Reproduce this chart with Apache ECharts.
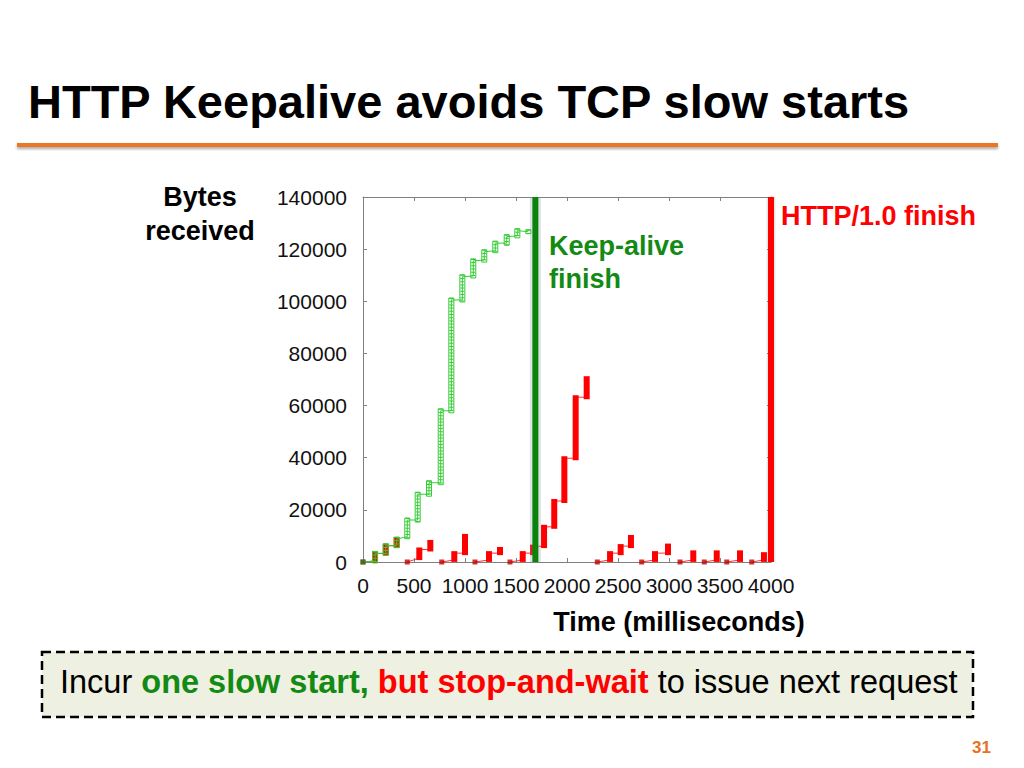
<!DOCTYPE html>
<html>
<head>
<meta charset="utf-8">
<script src="https://cdn.jsdelivr.net/npm/echarts@6/dist/echarts.min.js"></script>
<style>
html, body { margin: 0; padding: 0; background: #fff; }
#chart { width: 1024px; height: 768px; }
</style>
</head>
<body>
<div id="chart"></div>
<script>
// keep-alive: a single connection, one packet column per round trip
const kaTime = [118, 223, 330, 434, 536, 647, 762, 866, 974, 1081, 1189, 1297, 1409, 1513, 1621];
const kaLow  = [400, 3300, 6250, 9700, 16100, 26000, 30400, 58000, 100500, 109700, 115800, 119400, 122300, 125100, 126700];
const kaHigh = [3300, 6250, 8800, 16100, 26000, 30400, 58000, 100500, 109400, 115500, 119000, 122300, 124800, 127100, 126700];

// HTTP/1.0: a new connection per object, each one starts again from 0
const h10Start = [0, 434, 772, 1098, 1441, 2297, 2732, 3108, 3346, 3566, 3811];
const h10Conn  = [0, 0, 0, 1, 1, 2, 2, 3, 3, 4, 4, 4, 4, 4, 4, 4, 5, 5, 5, 6, 6, 7, 8, 9, 10];
const h10Time  = [118, 223, 330, 552, 660, 895, 1000, 1235, 1343, 1566, 1667, 1775, 1875, 1974, 2085, 2193, 2422, 2526, 2627, 2863, 2990, 3238, 3468, 3696, 3931];
const h10Low   = [400, 3300, 6250, 1500, 4800, 800, 3400, 800, 3400, 800, 3400, 6100, 13500, 23400, 39800, 63200, 800, 3400, 6100, 800, 3400, 800, 800, 800, 800];
const h10High  = [3300, 6250, 8800, 4800, 7700, 3400, 10000, 3400, 5000, 3400, 5900, 13500, 23400, 39800, 63200, 70500, 3400, 6100, 9600, 3400, 6300, 3700, 3700, 3700, 3000];

const keepAliveFinish = 1690;
const http10Finish = 4000;

const xTicks = { min: 0, max: 4000, interval: 500 };
const yTicks = { min: 0, max: 140000, interval: 20000 };

const FONT = '"Liberation Sans", Arial, sans-serif';
const GREEN = '#33cc33';
const RED = '#ff0000';

var myChart = echarts.init(document.getElementById('chart'), null, { renderer: 'svg' });

// line through the packet columns of one connection
function stepLine(start, times, lows, highs) {
    let pts = [[start, 0]];
    times.forEach((t, i) => {
        pts.push([t, lows[i]]);
        pts.push([t, highs[i]]);
    });
    return pts;
}

let redLines = h10Start.map((s, c) => {
    let idx = [];
    h10Conn.forEach((cc, i) => { if (cc == c) idx.push(i); });
    return {
        type: 'line',
        data: stepLine(s, idx.map(i => h10Time[i]), idx.map(i => h10Low[i]), idx.map(i => h10High[i])),
        showSymbol: false,
        silent: true,
        z: 2,
        lineStyle: { color: '#ff3030', width: 1 }
    };
});

function redColumn(params, api) {
    const top = api.coord([api.value(0), api.value(2)]);
    const bot = api.coord([api.value(0), api.value(1)]);
    return {
        type: 'rect',
        shape: { x: top[0] - 3, y: top[1] - 2, width: 6, height: bot[1] - top[1] + 4 },
        style: { fill: RED }
    };
}

function greenColumn(params, api) {
    const top = api.coord([api.value(0), api.value(2)]);
    const bot = api.coord([api.value(0), api.value(1)]);
    const h = bot[1] - top[1] + 4;
    return {
        type: 'group',
        children: [
            {
                type: 'rect',
                shape: { x: top[0] - 2.5, y: top[1] - 2, width: 5, height: h },
                style: { fill: 'none', stroke: GREEN, lineWidth: 1 }
            },
            {
                type: 'line',
                shape: { x1: top[0], y1: top[1] - 2, x2: top[0], y2: top[1] - 2 + h },
                style: { stroke: GREEN, lineWidth: 4, lineDash: [1, 2.2] }
            }
        ]
    };
}

// thick vertical marker, with a faint halo drawn underneath
function finishLine(t, color, width, z) {
    return {
        type: 'line',
        data: [[t, yTicks.min], [t, yTicks.max]],
        showSymbol: false,
        silent: true,
        clip: false,
        z: z,
        lineStyle: { color: color, width: width }
    };
}

const plainAxis = {
    axisLine: { show: true, onZero: false, lineStyle: { color: '#808080', width: 1 } },
    axisTick: { show: true, inside: true, length: 4, lineStyle: { color: '#808080' } },
    splitLine: { show: false }
};

var option = {
    backgroundColor: '#ffffff',
    animation: false,
    textStyle: { fontFamily: FONT },
    grid: { left: 363, right: 253, top: 197, bottom: 206 },
    xAxis: [
        Object.assign({
            type: 'value',
            min: xTicks.min, max: xTicks.max, interval: xTicks.interval,
            axisLabel: { color: '#111', fontSize: 21, margin: 13, fontFamily: FONT, formatter: v => String(v) }
        }, plainAxis),
        Object.assign({
            type: 'value',
            position: 'top',
            min: xTicks.min, max: xTicks.max, interval: xTicks.interval,
            axisLabel: { show: false }
        }, plainAxis)
    ],
    yAxis: [
        Object.assign({
            type: 'value',
            min: yTicks.min, max: yTicks.max, interval: yTicks.interval,
            axisLabel: { color: '#111', fontSize: 21, margin: 16, fontFamily: FONT, formatter: v => String(v) }
        }, plainAxis),
        Object.assign({
            type: 'value',
            position: 'right',
            min: yTicks.min, max: yTicks.max, interval: yTicks.interval,
            axisLabel: { show: false }
        }, plainAxis)
    ],
    series: redLines.concat([
        {
            type: 'custom',
            renderItem: redColumn,
            silent: true,
            z: 3,
            encode: { x: 0, y: [1, 2] },
            data: h10Time.map((t, i) => [t, h10Low[i], h10High[i]])
        },
        {
            type: 'scatter',
            symbol: 'rect',
            symbolSize: 5,
            silent: true,
            z: 3,
            itemStyle: { color: '#c00000' },
            data: h10Start.map(s => [s, 0])
        },
        {
            type: 'line',
            data: stepLine(0, kaTime, kaLow, kaHigh),
            showSymbol: false,
            silent: true,
            z: 4,
            lineStyle: { color: GREEN, width: 1 }
        },
        {
            type: 'custom',
            renderItem: greenColumn,
            silent: true,
            z: 5,
            encode: { x: 0, y: [1, 2] },
            data: kaTime.map((t, i) => [t, kaLow[i], kaHigh[i]])
        },
        {
            type: 'scatter',
            symbol: 'rect',
            symbolSize: 5,
            silent: true,
            z: 5,
            itemStyle: { color: '#2f7a1f' },
            data: [[0, 0]]
        },
        finishLine(keepAliveFinish, 'rgba(120,140,160,0.25)', 11, 6),
        finishLine(keepAliveFinish, '#0b830b', 6, 7),
        finishLine(http10Finish, 'rgba(120,120,120,0.18)', 9, 6),
        finishLine(http10Finish, RED, 6, 7)
    ]),
    graphic: [
        {
            type: 'text', left: 28, top: 78,
            style: { text: 'HTTP Keepalive avoids TCP slow starts', fill: '#000', font: 'bold 47px ' + FONT }
        },
        {
            type: 'rect', shape: { x: 17, y: 143, width: 981, height: 4 },
            style: { fill: '#ec7626', shadowBlur: 3, shadowOffsetY: 2, shadowColor: 'rgba(0,0,0,0.35)' }
        },
        {
            type: 'text', x: 200, y: 197,
            style: { text: 'Bytes', fill: '#000', font: 'bold 27px ' + FONT, align: 'center', verticalAlign: 'middle' }
        },
        {
            type: 'text', x: 200, y: 231,
            style: { text: 'received', fill: '#000', font: 'bold 27px ' + FONT, align: 'center', verticalAlign: 'middle' }
        },
        {
            type: 'text', x: 549, y: 246,
            style: { text: 'Keep-alive', fill: '#138a13', font: 'bold 27px ' + FONT, align: 'left', verticalAlign: 'middle' }
        },
        {
            type: 'text', x: 549, y: 279,
            style: { text: 'finish', fill: '#138a13', font: 'bold 27px ' + FONT, align: 'left', verticalAlign: 'middle' }
        },
        {
            type: 'text', x: 781, y: 216,
            style: { text: 'HTTP/1.0 finish', fill: RED, font: 'bold 27px ' + FONT, align: 'left', verticalAlign: 'middle' }
        },
        {
            type: 'text', x: 679, y: 622,
            style: { text: 'Time (milliseconds)', fill: '#000', font: 'bold 27px ' + FONT, align: 'center', verticalAlign: 'middle' }
        },
        {
            type: 'rect', shape: { x: 42, y: 652, width: 931, height: 65 },
            style: { fill: '#eef0e1', stroke: '#000', lineWidth: 2.5, lineDash: [9, 5] }
        },
        {
            type: 'text', x: 60, y: 682,
            style: {
                text: '{n|Incur }{g|one slow start, }{r|but stop-and-wait}{n| to issue next request}',
                verticalAlign: 'middle',
                rich: {
                    n: { fill: '#000', font: '32.5px ' + FONT },
                    g: { fill: '#138a13', font: 'bold 32.5px ' + FONT },
                    r: { fill: RED, font: 'bold 32.5px ' + FONT }
                }
            }
        },
        {
            type: 'text', x: 972, y: 747,
            style: { text: '31', fill: '#e8711f', font: 'bold 17px ' + FONT, verticalAlign: 'middle' }
        }
    ]
};

myChart.setOption(option);
</script>
</body>
</html>
